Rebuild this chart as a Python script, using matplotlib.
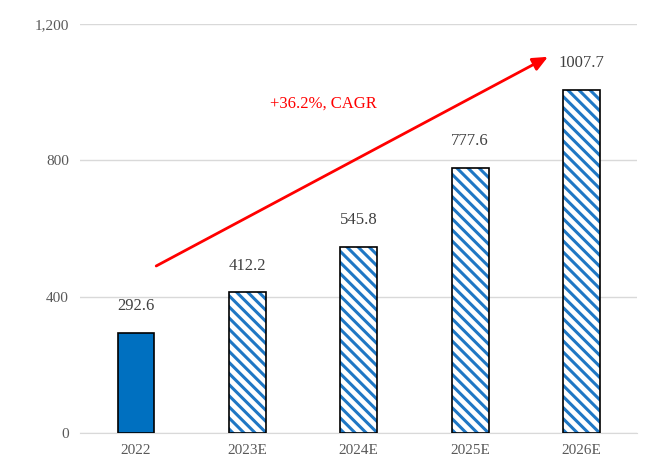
import matplotlib.pyplot as plt

years = ["2022", "2023E", "2024E", "2025E", "2026E"]
values = [292.6, 412.2, 545.8, 777.6, 1007.7]

plt.rcParams['font.family'] = ['Liberation Serif', 'DejaVu Serif']
plt.rcParams['hatch.color'] = '#1f77c4'
plt.rcParams['hatch.linewidth'] = 2.2

fig = plt.figure(figsize=(6.47, 4.74), dpi=100)
ax = fig.add_axes([0.124, 0.087, 0.861, 0.862])

x = list(range(len(years)))
for i, v in enumerate(values):
    if i == 0:
        ax.bar(i, v, width=0.33, color='#0070c0', edgecolor='black', linewidth=1.2, zorder=3)
    else:
        ax.bar(i, v, width=0.33, color='white', edgecolor='#1f77c4', hatch='\\\\\\', linewidth=0, zorder=3)
        ax.bar(i, v, width=0.33, fill=False, edgecolor='black', linewidth=1.2, zorder=4)
    ax.text(i, v + 55, f"{v:.1f}", ha='center', va='bottom', fontsize=12, color='#404040')

ax.set_xlim(-0.5, 4.5)
ax.set_ylim(0, 1200)
ax.set_yticks([0, 400, 800, 1200])
ax.set_yticklabels(["0", "400", "800", "1,200"])
ax.set_xticks(x)
ax.set_xticklabels(years)
ax.tick_params(colors='#595959', labelsize=11, length=0, pad=8)
ax.grid(axis='y', color='#d9d9d9', linewidth=1, zorder=0)
for s in ['top', 'right', 'left']:
    ax.spines[s].set_visible(False)
ax.spines['bottom'].set_color('#d9d9d9')

ax.annotate("", xy=(3.72, 1108), xytext=(0.16, 486),
            arrowprops=dict(arrowstyle='-|>,head_width=0.4,head_length=0.9', color='red', lw=2), zorder=5)
ax.text(1.68, 967, "+36.2%, CAGR", color='red', fontsize=12, ha='center', va='center')

fig.savefig("out.png", dpi=100)
